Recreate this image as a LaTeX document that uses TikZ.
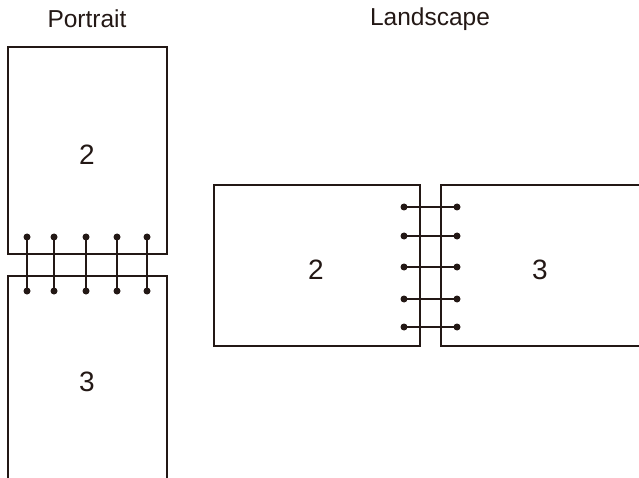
\documentclass[tikz,border=0pt]{standalone}
\usepackage{fontspec}
\setmainfont{Liberation Sans}
\definecolor{ink}{HTML}{231815}
\begin{document}
\begin{tikzpicture}[x=1pt,y=1pt,
  page/.style={draw=ink,line width=1.8pt},
  ring/.style={draw=ink,line width=2.6pt},
  dot/.style={circle,fill=ink,inner sep=0pt,minimum size=7pt},
  lbl/.style={text=ink,font=\fontsize{24.5}{28}\selectfont},
  num/.style={text=ink,font=\fontsize{28}{32}\selectfont}]
\useasboundingbox (0,0) rectangle (639,477);
% titles
\node[lbl] (tp) at (87,458) {Portrait};
\node[lbl] (tl) at (430,458) {Landscape};
% portrait pages
\draw[page] (8,430) rectangle (167,223);
\draw[page] (8,-2) -- (8,201) -- (167,201) -- (167,-2);
\node[num] (p2) at (87,322) {2};
\node[num] (p3) at (87,95) {3};
% landscape pages
\draw[page] (214,292) rectangle (420,131);
\draw[page] (641,292) -- (441,292) -- (441,131) -- (641,131);
\node[num] (l2) at (316,207) {2};
\node[num] (l3) at (540,207) {3};
% portrait rings
\foreach \i/\x in {1/27,2/54,3/86,4/117,5/147}{
  \node[dot] (pt\i) at (\x,240) {};
  \node[dot] (pb\i) at (\x,186) {};
  \draw[ring] (pt\i.center) -- (pb\i.center);
}
% landscape rings
\foreach \i/\y in {1/270,2/241,3/210,4/178,5/150}{
  \node[dot] (ll\i) at (404,\y) {};
  \node[dot] (lr\i) at (457,\y) {};
  \draw[ring] (ll\i.center) -- (lr\i.center);
}
\end{tikzpicture}
\end{document}
